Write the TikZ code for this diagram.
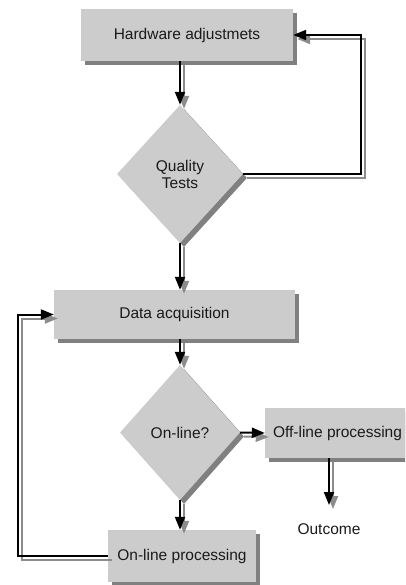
\documentclass[tikz,border=0pt]{standalone}
\usepackage{fontspec}
\setmainfont{Liberation Sans}
\usetikzlibrary{shapes.geometric,shadows,arrows.meta}
\definecolor{boxfill}{HTML}{CCCCCC}
\definecolor{shadowgray}{HTML}{808080}
\definecolor{lineshadow}{HTML}{8C8C8C}
\definecolor{txt}{HTML}{1A1A1A}
\tikzset{
  boxshadow/.style={drop shadow={shadow xshift=4pt,shadow yshift=-4pt,fill=shadowgray,opacity=1}},
  procbox/.style={rectangle,fill=boxfill,draw=none,boxshadow,inner sep=0pt,text=txt,font=\fontsize{15.5}{17}\selectfont},
  decbox/.style={diamond,fill=boxfill,draw=none,boxshadow,inner sep=0pt,align=center,text=txt,font=\fontsize{15.5}{17}\selectfont},
  conn/.style={line width=2pt,draw=black,-{Triangle[length=13pt,width=10pt]},
    preaction={draw=lineshadow,line width=2pt,transform canvas={shift={(4pt,-4pt)}}}},
}
\begin{document}
\begin{tikzpicture}[x=1pt,y=-1pt]
\useasboundingbox (0,0) rectangle (405,585);
\clip (0,0) rectangle (405,585);
\node[procbox,minimum width=212pt,minimum height=52pt] (hw) at (187,35) {Hardware adjustmets};
\node[decbox,minimum width=126pt,minimum height=138pt] (qt) at (180,174) {Quality\\Tests};
\node[procbox,minimum width=241pt,minimum height=49pt] (da) at (174.5,314.5) {Data acquisition};
\node[decbox,minimum width=120pt,minimum height=135pt] (ol) at (180,432.5) {On-line?};
\node[procbox,minimum width=145pt,minimum height=50pt] (off) at (337.5,433) {Off-line processing};
\node[procbox,minimum width=148pt,minimum height=52pt] (on) at (182,556) {On-line processing};
\node[text=txt,font=\fontsize{15.5}{17}\selectfont,inner sep=0pt] (out) at (329,529) {Outcome};
\coordinate (oend) at (329,505);
\coordinate (qtr) at (361,174);
\coordinate (onl) at (18,556);

\draw[conn] (qt.north |- hw.south) -- (qt.north);
\draw[conn] (qt.east) -- (qtr) |- (hw.east);
\draw[conn] (qt.south) -- (qt.south |- da.north);
\draw[conn] (ol.north |- da.south) -- (ol.north);
\draw[conn] (ol.east) -- (off.west);
\draw[conn] (oend |- off.south) -- (oend);
\draw[conn] (ol.south) -- (ol.south |- on.north);
\draw[conn] (on.west) -- (onl) |- (da.west);
\end{tikzpicture}
\end{document}
